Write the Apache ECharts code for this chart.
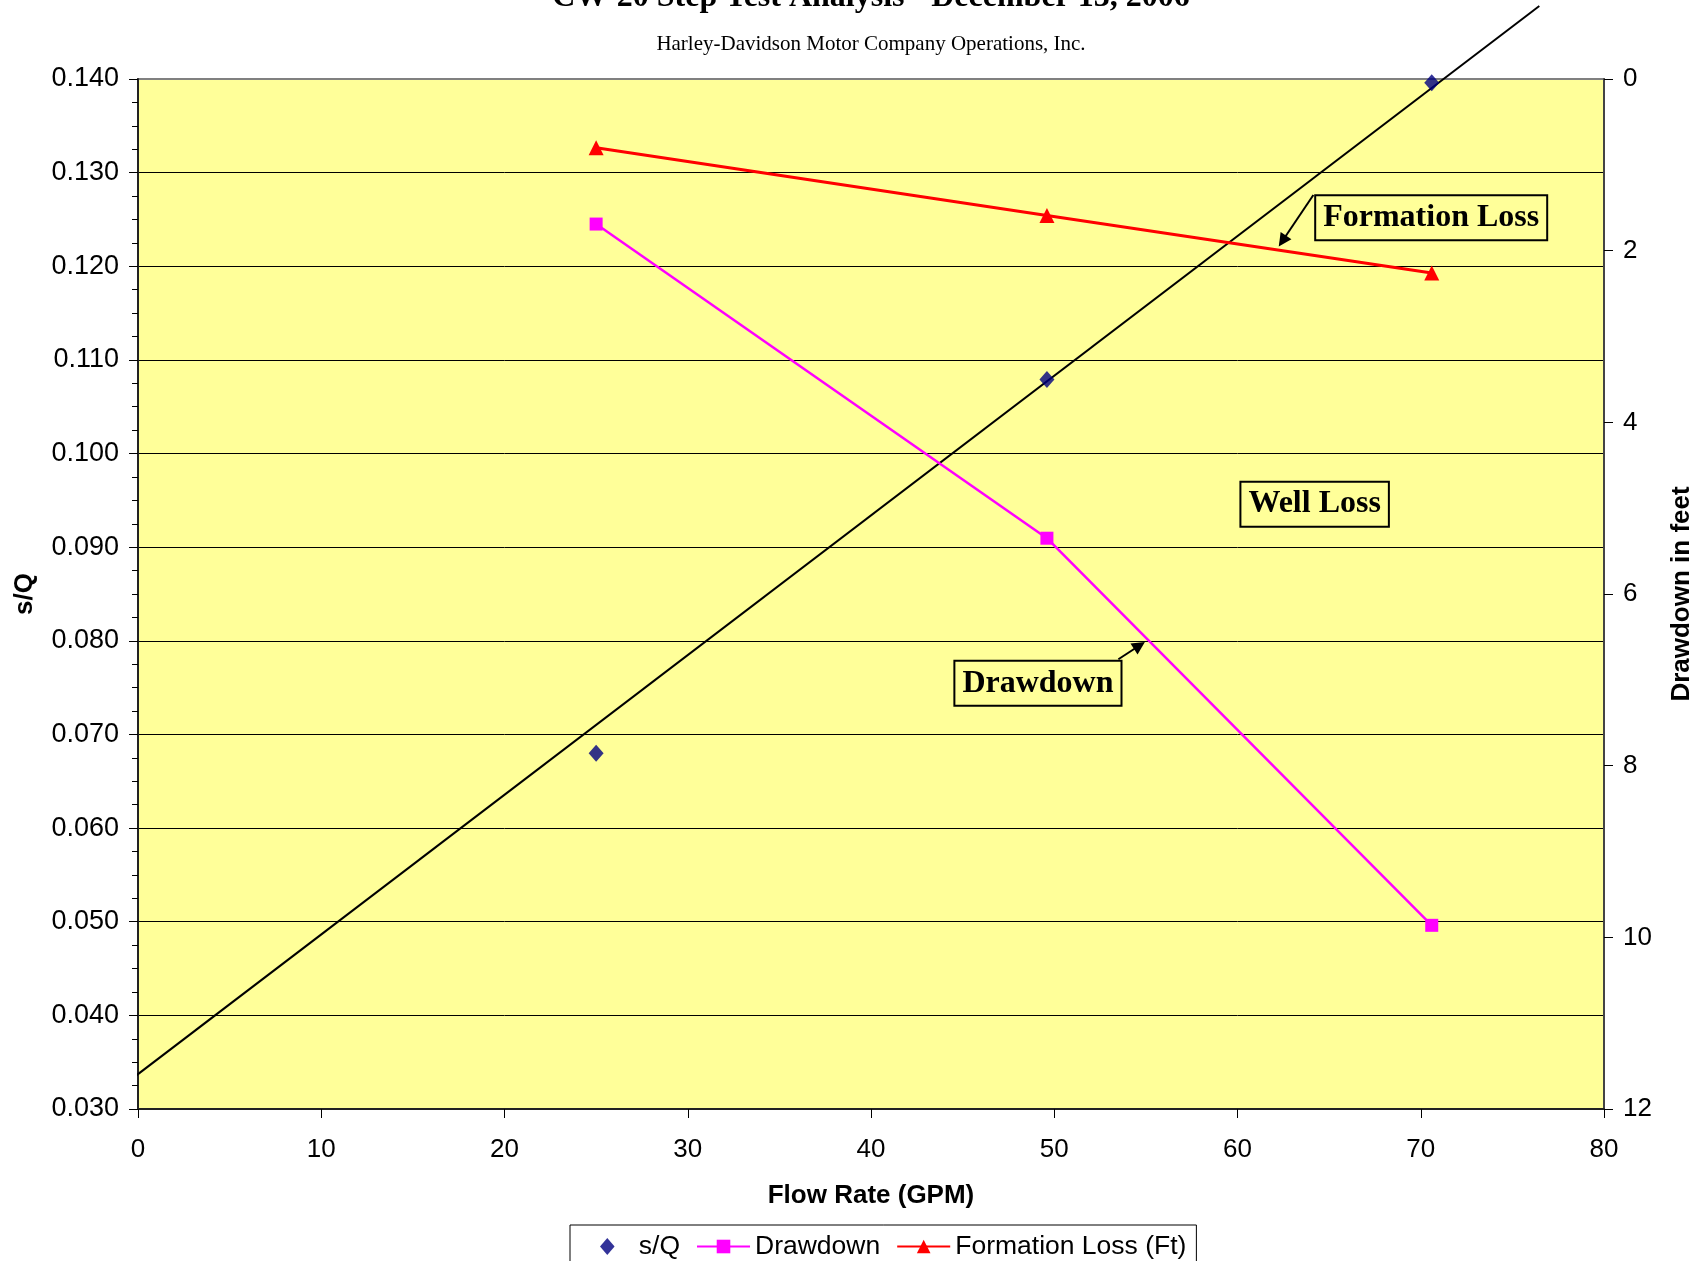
<!DOCTYPE html>
<html>
<head>
<meta charset="utf-8">
<script src="https://cdn.jsdelivr.net/npm/echarts@6/dist/echarts.min.js"></script>
<style>
html, body { margin: 0; padding: 0; background: #ffffff; }
#chart { width: 1705px; height: 1261px; }
</style>
</head>
<body>
<div id="chart"></div>
<script>
// ---- data ----
const flowRate = [25.0, 49.6, 70.6];          // GPM
const sOverQ = [0.0680, 0.1079, 0.1396];      // s/Q (left axis)
const drawdown = [1.69, 5.35, 9.86];          // ft (right axis)
const formationLoss = [0.80, 1.59, 2.26];     // ft (right axis)
const lineFlow = [-0.42, 76.47];              // hand-drawn straight line through s/Q
const lineSQ = [0.0331, 0.1478];
const seriesNames = ['s/Q', 'Drawdown', 'Formation Loss (Ft)'];
const titleText = 'CW-20 Step Test Analysis - December 13, 2006';
const subtitleText = 'Harley-Davidson Motor Company Operations, Inc.';

const SANS = '"Liberation Sans", Arial, sans-serif';
const SERIF = '"Liberation Serif", "Times New Roman", serif';

const zip = (a, b) => a.map((v, i) => [v, b[i]]);

const boxLabel = {
  show: true,
  position: 'inside',
  formatter: '{b}',
  fontFamily: SERIF,
  fontWeight: 'bold',
  fontSize: 32,
  lineHeight: 32,
  color: '#000',
  backgroundColor: '#FFFF99',
  borderColor: '#000',
  borderWidth: 2,
  padding: [6, 7, 5, 7]
};

const chart = echarts.init(document.getElementById('chart'), null, { renderer: 'canvas' });

const option = {
  animation: false,
  backgroundColor: '#ffffff',
  title: {
    text: titleText,
    subtext: subtitleText,
    left: 871,
    textAlign: 'center',
    top: -18,
    padding: 0,
    itemGap: 20,
    textStyle: { fontFamily: SERIF, fontWeight: 'bold', fontSize: 32, color: '#000' },
    subtextStyle: { fontFamily: SERIF, fontSize: 21, color: '#000' }
  },
  grid: {
    left: 138, right: 101, top: 79, bottom: 152,
    show: true,
    backgroundColor: '#FFFF99',
    borderColor: '#808080',
    borderWidth: 2
  },
  legend: {
    data: [
      { name: seriesNames[0], icon: 'path://M0,-7L6,0L0,7L-6,0Z' },
      { name: seriesNames[1] },
      { name: seriesNames[2] }
    ],
    left: 570,
    top: 1225,
    orient: 'horizontal',
    padding: [8, 10, 14, 30],
    itemGap: 16,
    itemWidth: 53,
    itemHeight: 17,
    backgroundColor: '#ffffff',
    borderColor: '#000',
    borderWidth: 1,
    borderRadius: 0,
    textStyle: { fontFamily: SANS, fontSize: 26.5, color: '#000' }
  },
  xAxis: {
    type: 'value',
    min: 0, max: 80, interval: 10,
    name: 'Flow Rate (GPM)',
    nameLocation: 'middle',
    nameGap: 74,
    nameTextStyle: { fontFamily: SANS, fontWeight: 'bold', fontSize: 26, color: '#000' },
    axisLine: { show: true, onZero: false, lineStyle: { color: '#222', width: 2 } },
    axisTick: { show: true, length: 9, lineStyle: { color: '#000', width: 1 } },
    axisLabel: { fontFamily: SANS, fontSize: 26, color: '#000', margin: 28 },
    splitLine: { show: false }
  },
  yAxis: [
    {
      type: 'value',
      position: 'left',
      min: 0.03, max: 0.14, interval: 0.01,
      name: 's/Q',
      nameLocation: 'middle',
      nameGap: 100,
      nameTextStyle: { fontFamily: SANS, fontWeight: 'bold', fontSize: 26, color: '#000' },
      axisLine: { show: true, onZero: false, lineStyle: { color: '#222', width: 2 } },
      axisTick: { show: true, length: 9, lineStyle: { color: '#000', width: 1 } },
      minorTick: { show: true, splitNumber: 4, length: 6, lineStyle: { color: '#000', width: 1 } },
      axisLabel: { fontFamily: SANS, fontSize: 27, color: '#000', margin: 19,
        formatter: v => v.toFixed(3) },
      splitLine: { show: true, showMaxLine: false, showMinLine: false,
        lineStyle: { color: '#000', width: 1 } }
    },
    {
      type: 'value',
      position: 'right',
      min: 0, max: 12, interval: 2,
      inverse: true,
      name: 'Drawdown in feet',
      nameLocation: 'middle',
      nameGap: 65,
      nameTextStyle: { fontFamily: SANS, fontWeight: 'bold', fontSize: 26, color: '#000' },
      axisLine: { show: true, onZero: false, lineStyle: { color: '#444', width: 2 } },
      axisTick: { show: true, length: 9, lineStyle: { color: '#000', width: 1 } },
      axisLabel: { fontFamily: SANS, fontSize: 26, color: '#000', margin: 19 },
      splitLine: { show: false }
    }
  ],
  series: [
    {
      name: 'straight line',
      type: 'line',
      xAxisIndex: 0, yAxisIndex: 0,
      data: zip(lineFlow, lineSQ),
      symbol: 'none',
      clip: false,
      silent: true,
      z: 3,
      lineStyle: { color: '#000', width: 2 },
      markLine: {
        silent: true,
        symbol: ['none', 'triangle'],
        symbolSize: 13,
        label: { show: false },
        itemStyle: { color: '#000' },
        lineStyle: { color: '#000', width: 2, type: 'solid' },
        data: [
          [{ coord: [64.14, 0.12761] }, { coord: [62.45, 0.12270] }],
          [{ coord: [53.50, 0.07803] }, { coord: [54.65, 0.07950] }]
        ]
      },
      markPoint: {
        silent: true,
        symbol: 'rect',
        symbolSize: 1,
        itemStyle: { color: 'rgba(0,0,0,0)' },
        label: boxLabel,
        data: [
          { name: 'Formation Loss', coord: [70.57, 0.12518] },
          { name: 'Well Loss', coord: [64.21, 0.09459] },
          { name: 'Drawdown', coord: [49.11, 0.07547] }
        ]
      }
    },
    {
      name: seriesNames[0],
      type: 'scatter',
      xAxisIndex: 0, yAxisIndex: 0,
      data: zip(flowRate, sOverQ),
      symbol: 'diamond',
      symbolSize: [15, 17],
      z: 5,
      itemStyle: { color: '#000080' }
    },
    {
      name: seriesNames[1],
      type: 'line',
      xAxisIndex: 0, yAxisIndex: 1,
      data: zip(flowRate, drawdown),
      symbol: 'rect',
      symbolSize: 13,
      z: 4,
      itemStyle: { color: '#FF00FF' },
      lineStyle: { color: '#FF00FF', width: 2.5 }
    },
    {
      name: seriesNames[2],
      type: 'line',
      xAxisIndex: 0, yAxisIndex: 1,
      data: zip(flowRate, formationLoss),
      symbol: 'triangle',
      symbolSize: 15,
      z: 4,
      itemStyle: { color: '#FF0000' },
      lineStyle: { color: '#FF0000', width: 3 }
    }
  ]
};

chart.setOption(option);
</script>
</body>
</html>
